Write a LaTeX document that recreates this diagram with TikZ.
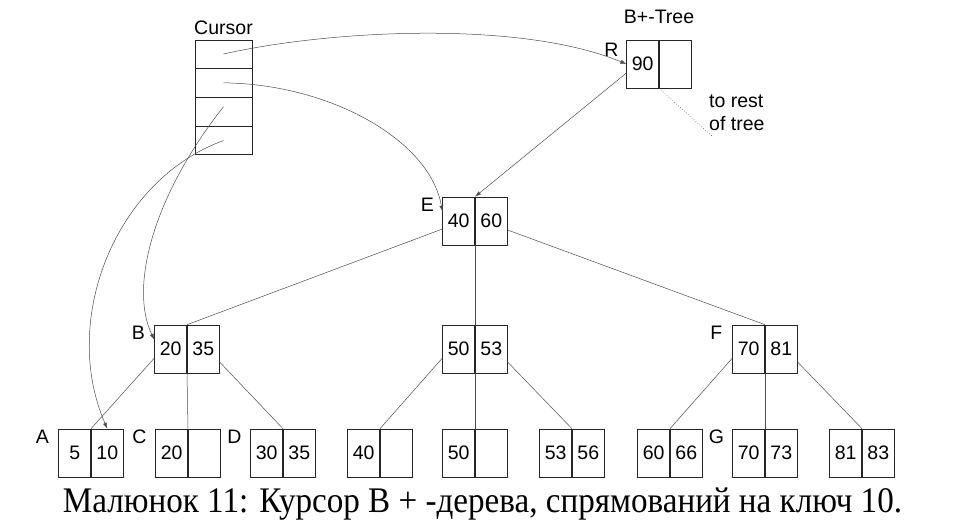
\documentclass[tikz,border=0pt]{standalone}
\usepackage{fontspec}
\setmainfont{Liberation Serif}
\setsansfont{Liberation Sans}
\newfontfamily\capfont[FakeStretch=0.92]{Liberation Serif}
\usetikzlibrary{arrows.meta, positioning}

% a node of the tree: two key cells side by side, #2 is the divider
\newcommand{\keynode}[4]{%
    \node[keycell, anchor=east] (#1-l) at (#2) {#3};
    \node[keycell, anchor=west] (#1-r) at (#2) {#4};
}

\begin{document}
\begin{tikzpicture}[x=1pt, y=-1pt,
    keycell/.style={draw=black!85, line width=0.6pt, minimum width=32pt, minimum height=48pt, inner sep=0pt, font=\sffamily\fontsize{19.5}{19.5}\selectfont},
    slot/.style={draw=black!85, line width=0.6pt, minimum width=57pt, minimum height=28.25pt, inner sep=0pt},
    nodetag/.style={font=\sffamily\fontsize{19.5}{19.5}\selectfont, inner sep=0pt},
    link/.style={draw=black!70, line width=0.5pt},
    ptr/.style={link, -{Latex[length=6pt, width=4pt]}}]
        \useasboundingbox (0,0) rectangle (965,521);

        % cursor
        \node[slot]                 (c1)    at (223.5,54)      {};
        \node[slot, below=0pt of c1] (c2)                      {};
        \node[slot, below=0pt of c2] (c3)                      {};
        \node[slot, below=0pt of c3] (c4)                      {};
        \node[nodetag, anchor=base] at ([yshift=5pt]c1.north) {Cursor};

        % inner nodes
        \keynode{R}{659,64}{90}{}
        \keynode{E}{475,221}{40}{60}
        \keynode{B}{187,349}{20}{35}
        \keynode{M}{475,349}{50}{53}
        \keynode{F}{765,349}{70}{81}
        \node[nodetag, anchor=base] at ([yshift=16pt]R-l.north east) {B+-Tree};

        % leaves
        \keynode{A}{91,453}{5}{10}
        \keynode{C}{188,453}{20}{}
        \keynode{D}{283,453}{30}{35}
        \keynode{L40}{380,453}{40}{}
        \keynode{L50}{475,453}{50}{}
        \keynode{L53}{572,453}{53}{56}
        \keynode{L60}{670,453}{60}{66}
        \keynode{G}{765,453}{70}{73}
        \keynode{L81}{862,453}{81}{83}

        \node[nodetag] at ([xshift=-15pt, yshift=-10pt]R-l.north west) {R};
        \node[nodetag] at ([xshift=-15pt, yshift=-8pt]E-l.north west) {E};
        \node[nodetag] at ([xshift=-16pt, yshift=-8pt]B-l.north west) {B};
        \node[nodetag] at ([xshift=-16pt, yshift=-8pt]F-l.north west) {F};
        \node[nodetag] at ([xshift=-16pt, yshift=-8pt]A-l.north west) {A};
        \node[nodetag] at ([xshift=-16pt, yshift=-8pt]C-l.north west) {C};
        \node[nodetag] at ([xshift=-16pt, yshift=-8pt]D-l.north west) {D};
        \node[nodetag] at ([xshift=-16pt, yshift=-8pt]G-l.north west) {G};

        % root to the rest of the tree
        \coordinate (rest) at (713,137);
        \draw[link, draw=black!65, line width=0.6pt, dotted] (R-l.south east) -- (rest);
        \node[nodetag, font=\sffamily\fontsize{19.5}{23}\selectfont, align=left, anchor=north west] at (709,95) {to rest\\of tree};

        % tree edges
        \draw[ptr] ([yshift=-9pt]R-l.west) -- (E-l.north east);
        \draw[link] ([yshift=-8pt]E-l.west) -- (B-l.north east);
        \draw[link] (E-l.south east) -- (M-l.north east);
        \draw[link] ([yshift=-9pt]E-r.east) -- (F-l.north east);

        \draw[link] ([yshift=-9pt]B-l.west) -- (A-l.north east);
        \draw[link] (B-l.south east) -- (C-l.north east);
        \draw[link] ([yshift=-13pt]B-r.east) -- (D-l.north east);
        \draw[link] ([yshift=-9pt]M-l.west) -- (L40-l.north east);
        \draw[link] (M-l.south east) -- (L50-l.north east);
        \draw[link] ([yshift=-13pt]M-r.east) -- (L53-l.north east);
        \draw[link] ([yshift=-9pt]F-l.west) -- (L60-l.north east);
        \draw[link] (F-l.south east) -- (G-l.north east);
        \draw[link] ([yshift=-13pt]F-r.east) -- (L81-l.north east);

        % cursor pointers
        \draw[ptr] (c1.center) .. controls (330,30) and (520,20) .. (R-l.west);
        \draw[ptr] (c2.center) .. controls (330,84) and (430,140) .. ([yshift=-15pt]E-l.north west);
        \draw[ptr] ([yshift=5pt]c3.center) .. controls (150,200) and (130,290) .. ([yshift=-15pt]B-l.north west);
        \draw[ptr] (c4.center) .. controls (115,180) and (60,320) .. (A-r.north);

        \node[font=\capfont\fontsize{36}{36}\selectfont, inner sep=0pt, anchor=base] (caption) at (482.5,512) {Малюнок 11: Курсор B + -дерева, спрямований на ключ 10.};
    \end{tikzpicture}
\end{document}
